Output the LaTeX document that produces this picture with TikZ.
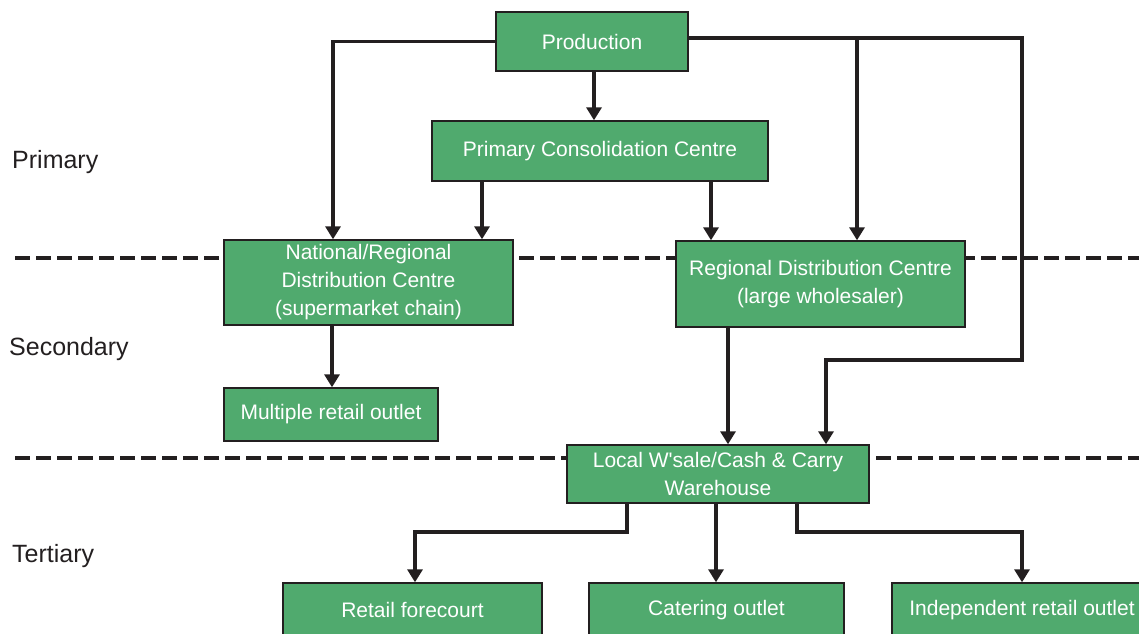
\documentclass[tikz,border=0pt]{standalone}
\usepackage{fontspec}
\setmainfont{Liberation Sans}
\usepackage{tikz}
\usetikzlibrary{arrows.meta}

\definecolor{boxgreen}{RGB}{80,170,110}
\definecolor{inkblack}{RGB}{35,31,32}

\begin{document}
\begin{tikzpicture}[x=1pt, y=-1pt,
    box/.style={draw=inkblack, line width=1.4pt, fill=boxgreen, text=white, inner sep=0pt, align=center, font=\fontsize{21}{28}\selectfont},
    arr/.style={draw=inkblack, line width=3.6pt, -{Triangle[length=13pt,width=15pt]}},
    tier/.style={draw=inkblack, line width=3.6pt, dash pattern=on 15pt off 6pt},
    level/.style={anchor=base west, inner sep=0pt, text=inkblack, font=\fontsize{25}{30}\selectfont}]
            \useasboundingbox (0,0) rectangle (1139,633);
            \clip (0,0) rectangle (1139,633);
            % tier boundaries
            \draw [tier] (15,258) -- (1139,258);
            \draw [tier] (15,458) -- (1139,458);
            \node [level] (primary) at (12,168) {Primary};
            \node [level] (secondary) at (9,355) {Secondary};
            \node [level] (tertiary) at (12,562) {Tertiary};
            % boxes
            \node [box, minimum width=192pt, minimum height=59pt] (prod) at (592,41.5) {Production};
            \node [box, minimum width=336pt, minimum height=60pt] (pcc) at (600,151) {Primary Consolidation Centre};
            \node [box, minimum width=289pt, minimum height=85pt] (nat) at (368.5,282.5) {National/Regional\\Distribution Centre\\(supermarket chain)};
            \node [box, minimum width=289pt, minimum height=86pt] (rdc) at (820.5,284) {Regional Distribution Centre\\(large wholesaler)};
            \node [box, minimum width=214pt, minimum height=53pt] (mro) at (331,414.5) {Multiple retail outlet};
            \node [box, minimum width=302pt, minimum height=58pt] (local) at (718,474) {Local W\textquotesingle sale/Cash \& Carry\\Warehouse};
            \node [box, minimum width=259pt, minimum height=54pt] (rf) at (412.5,610) {Retail forecourt};
            \node [box, minimum width=255pt, minimum height=54pt] (cat) at (716.5,610) {Catering outlet};
            \node [box, minimum width=260pt, minimum height=54pt] (ind) at (1022,610) {Independent retail outlet};
            % flows
            \coordinate (split) at (857,38);
            \coordinate (bend) at (1022,360);
            \draw [arr] (prod.west) -| ([xshift=-35.5pt]nat.north);
            \draw [arr] ([xshift=2pt]prod.south) -- ([xshift=2pt]prod.south |- pcc.north);
            \draw [arr] ([yshift=3.5pt]prod.east) -| (bend) -| ([xshift=108pt]local.north);
            \draw [arr] (split) -- (split |- rdc.north);
            \draw [arr] ([xshift=-118pt]pcc.south) -- ([xshift=-118pt]pcc.south |- nat.north);
            \draw [arr] ([xshift=111pt]pcc.south) -- ([xshift=111pt]pcc.south |- rdc.north);
            \draw [arr] ([xshift=-36.5pt]nat.south) -- ([xshift=-36.5pt]nat.south |- mro.north);
            \draw [arr] ([xshift=-92.5pt]rdc.south) -- ([xshift=-92.5pt]rdc.south |- local.north);
            \draw [arr] ([xshift=-91pt]local.south) -- ++(0,28) -| ([xshift=2.5pt]rf.north);
            \draw [arr] ([xshift=-2pt]local.south) -- ([xshift=-2pt]local.south |- cat.north);
            \draw [arr] ([xshift=79pt]local.south) -- ++(0,28) -| (ind.north);
        \end{tikzpicture}
\end{document}
